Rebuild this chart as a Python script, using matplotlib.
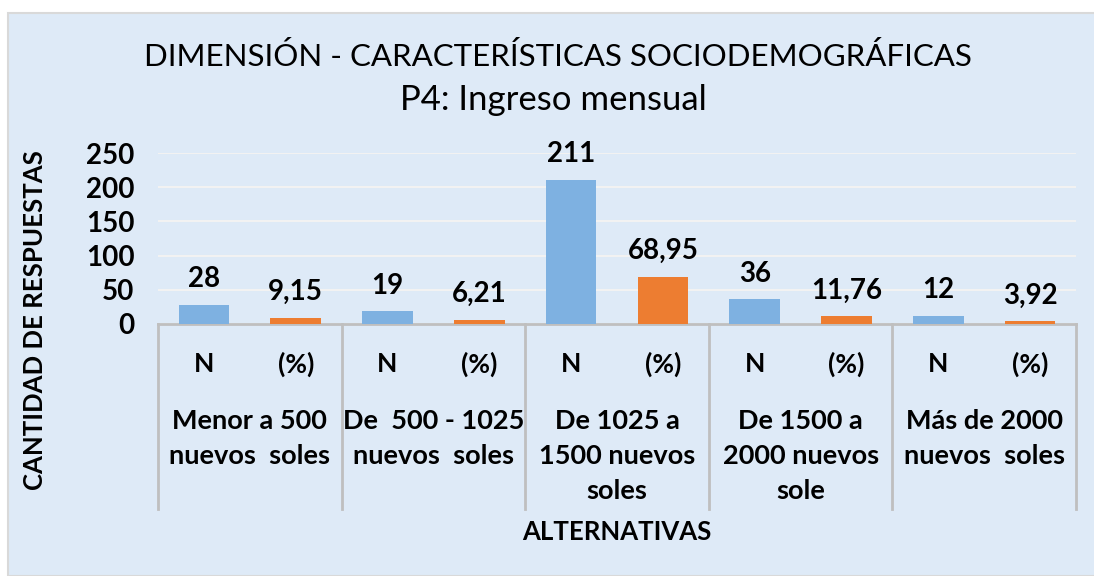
import matplotlib
matplotlib.use("Agg")
import matplotlib.pyplot as plt
import matplotlib.transforms as mtransforms
from matplotlib.patches import Rectangle
import numpy as np

# data
groups = ["Menor a 500\nnuevos  soles", "De  500 - 1025\nnuevos  soles",
          "De 1025 a\n1500 nuevos\nsoles", "De 1500 a\n2000 nuevos\nsole",
          "Más de 2000\nnuevos  soles"]
sub_labels = ["N", "(%)"]
n_values = [28, 19, 211, 36, 12]
pct_values = [9.15, 6.21, 68.95, 11.76, 3.92]
pct_text = ["9,15", "6,21", "68,95", "11,76", "3,92"]
y_ticks = [0, 50, 100, 150, 200, 250]

BG = "#DEEAF7"
BLUE = "#7EB1E1"
ORANGE = "#ED7D31"
AXIS = "#BFBFBF"

plt.rcParams['font.family'] = ['Lato', 'DejaVu Sans']

W, H = 1094, 576
fig = plt.figure(figsize=(W / 100, H / 100), dpi=100)
fig.patch.set_facecolor("white")
fig.patches.append(Rectangle((8 / W, 0), 1, 1 - 13 / H, transform=fig.transFigure,
                             facecolor=BG, edgecolor="#D9D9D9", linewidth=1.5, zorder=-10))

left, right = 158 / W, 1076 / W
bottom, top = 1 - 324 / H, 1 - 153 / H
ax = fig.add_axes([left, bottom, right - left, top - bottom])
ax.patch.set_alpha(0)

n_groups = len(groups)
x = np.arange(n_groups * 2)
heights = []
colors = []
for i in range(n_groups):
    heights += [n_values[i], pct_values[i]]
    colors += [BLUE, ORANGE]
bars = ax.bar(x, heights, width=0.55, color=colors, zorder=3)

labels = []
for i in range(n_groups):
    labels += [str(n_values[i]), pct_text[i]]
for b, lab in zip(bars, labels):
    ax.annotate(lab, (b.get_x() + b.get_width() / 2, b.get_height()),
                xytext=(0, 9), textcoords="offset points", ha="center", va="bottom",
                fontsize=20, fontweight="bold", annotation_clip=False)

ax.set_xlim(-0.5, n_groups * 2 - 0.5)
ax.set_ylim(0, 250)
ax.set_yticks(y_ticks)
ax.set_yticklabels([str(t) for t in y_ticks], fontsize=20, fontweight="bold")
ax.tick_params(axis="y", length=0, pad=17)
ax.set_xticks([])
ax.yaxis.grid(True, color="#F2F2F2", linewidth=1.5, zorder=0)
for s in ["top", "right", "left"]:
    ax.spines[s].set_visible(False)
ax.spines["bottom"].set_color(AXIS)
ax.spines["bottom"].set_linewidth(2)

# multi-level category axis
trans = mtransforms.blended_transform_factory(ax.transData, fig.transFigure)
def fy(py):
    return 1 - py / H

for k in range(n_groups + 1):
    xs = k * 2 - 0.5
    ax.plot([xs, xs], [fy(324), fy(509)], transform=trans, color=AXIS,
            linewidth=2, clip_on=False)

for i in range(n_groups):
    for j, sl in enumerate(sub_labels):
        ax.text(i * 2 + j, fy(364), sl, transform=trans, ha="center", va="center",
                fontsize=19, fontweight="bold")
    ax.text(i * 2 + 0.5, fy(409), groups[i], transform=trans, ha="center", va="top",
            fontsize=19.5, fontweight="bold", linespacing=1.55)

fig.text((left + right) / 2, fy(532), "ALTERNATIVAS", ha="center", va="center",
         fontsize=18.5, fontweight="bold")
fig.text(35 / W, fy(320), "CANTIDAD DE RESPUESTAS", rotation=90, ha="center",
         va="center", fontsize=18.5, fontweight="bold")

fig.text(558 / W, fy(57), "DIMENSIÓN - CARACTERÍSTICAS SOCIODEMOGRÁFICAS",
         ha="center", va="center", fontsize=22.5)
fig.text(553 / W, fy(100), "P4: Ingreso mensual", ha="center", va="center", fontsize=25)

fig.savefig("out.png", dpi=100, facecolor=fig.get_facecolor())
